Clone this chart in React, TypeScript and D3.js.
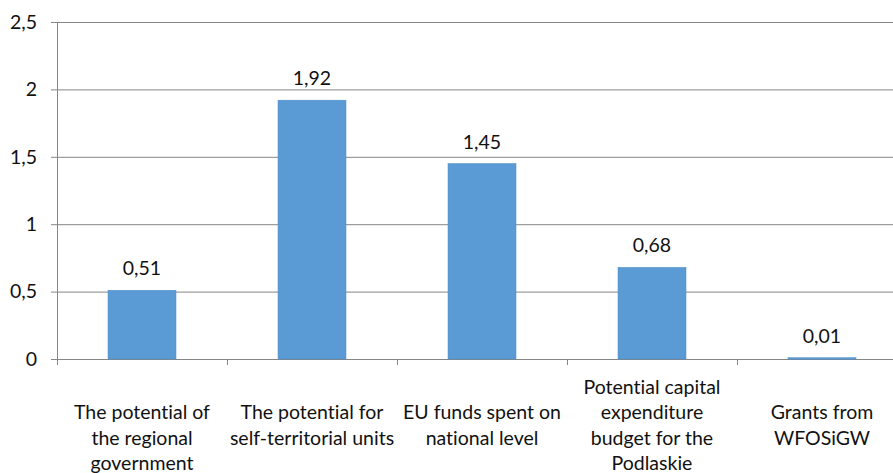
import React from "react";
import * as d3 from "d3";

const categories: string[][] = [
  ["The potential of", "the regional", "government"],
  ["The potential for", "self-territorial units"],
  ["EU funds spent on", "national level"],
  ["Potential capital", "expenditure", "budget for the", "Podlaskie"],
  ["Grants from", "WFOSiGW"],
];
const values: number[] = [0.51, 1.92, 1.45, 0.68, 0.01];
const yTicks: number[] = [0, 0.5, 1, 1.5, 2, 2.5];

const W = 893;
const H = 473;
const FONT = "Lato, 'Open Sans', sans-serif";
const fmt = (v: number) => String(v).replace(".", ",");

export default function App() {
  const left = 57;
  const bandW = 170;
  const x = d3
    .scaleBand<number>()
    .domain(values.map((_, i) => i))
    .range([left, left + bandW * values.length])
    .paddingInner(0.6)
    .paddingOuter(0.3);
  const y = d3.scaleLinear().domain([0, 2.5]).range([359, 22]);
  const fs = 19.5;
  const lineH = 25.5;

  return (
    <svg
      width={W}
      height={H}
      style={{ position: "absolute", left: 0, top: 0, background: "#fff", fontVariantLigatures: "none" }}
      fontFamily={FONT}
    >
      <rect x={0} y={0} width={W} height={H} fill="#fff" />
      {yTicks.map((t) => (
        <g key={t}>
          <line x1={left - 6} x2={left + bandW * values.length} y1={y(t) + 0.5} y2={y(t) + 0.5} stroke="#868686" strokeWidth={1} />
          <text x={37} y={y(t)} dy="0.35em" textAnchor="end" fontSize={fs} fill="#111">
            {fmt(t)}
          </text>
        </g>
      ))}
      <line x1={left + 0.5} x2={left + 0.5} y1={y(2.5)} y2={y(0) + 6} stroke="#868686" />
      {d3.range(values.length + 1).map((i) => (
        <line key={i} x1={left + bandW * i + 0.5} x2={left + bandW * i + 0.5} y1={y(0)} y2={y(0) + 6} stroke="#868686" />
      ))}
      {values.map((v, i) => {
        const lines = categories[i];
        const start = 419 - (lines.length > 3 ? lineH : 0);
        return (
          <g key={i}>
            <rect
              x={x(i)!}
              y={y(v)}
              width={x.bandwidth()}
              height={Math.max(y(0) - y(v), 1.5)}
              fill="#5B9BD5"
              stroke="#4F8CC7"
              strokeWidth={0.5}
            />
            <text x={x(i)! + x.bandwidth() / 2} y={y(v) - 15} textAnchor="middle" fontSize={fs} fill="#111">
              {fmt(v)}
            </text>
            {lines.map((line, j) => (
              <text
                key={j}
                x={x(i)! + x.bandwidth() / 2}
                y={start + j * lineH}
                textAnchor="middle"
                fontSize={fs}
                fill="#111"
              >
                {line}
              </text>
            ))}
          </g>
        );
      })}
    </svg>
  );
}
